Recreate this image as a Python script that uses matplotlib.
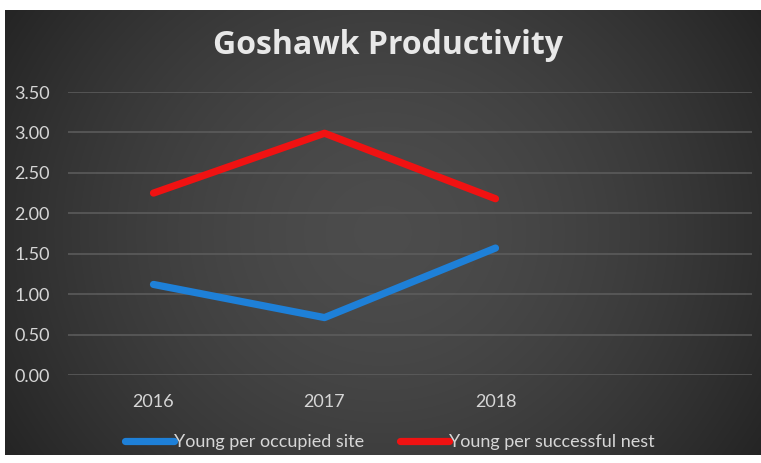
import numpy as np
import matplotlib.pyplot as plt

# data
years = ['2016', '2017', '2018']
per_site = [1.12, 0.71, 1.57]
per_nest = [2.25, 2.99, 2.18]
yticks = [0.0, 0.5, 1.0, 1.5, 2.0, 2.5, 3.0, 3.5]

plt.rcParams['font.family'] = ['Lato', 'DejaVu Sans']

W, H = 761, 463
fig = plt.figure(figsize=(W / 100, H / 100), dpi=100, facecolor='white')

# dark background panel with soft gradient
bg = fig.add_axes([5 / W, 8 / H, 756 / W, 445 / H])
gx = np.linspace(-1, 1, 400)
gy = np.linspace(-1, 1, 240)
X, Y = np.meshgrid(gx, gy)
r = np.sqrt((X * 0.95) ** 2 + (Y * 0.6) ** 2)
shade = 0.30 - 0.13 * np.clip(r, 0, 1.3) ** 1.6
bg.imshow(np.dstack([shade] * 3), aspect='auto', extent=[0, 1, 0, 1], interpolation='bilinear')
bg.set_axis_off()

ax = fig.add_axes([68 / W, (H - 375) / H, 684 / W, 283 / H])
ax.patch.set_alpha(0)
x = np.arange(len(years))
l1, = ax.plot(x, per_site, color='#1E80D8', lw=5.2, solid_capstyle='round', solid_joinstyle='round',
              label='Young per occupied site')
l2, = ax.plot(x, per_nest, color='#F01212', lw=5.2, solid_capstyle='round', solid_joinstyle='round',
              label='Young per successful nest')

ax.set_xlim(-0.5, 3.5)
ax.set_ylim(0, 3.5)
ax.set_yticks(yticks)
ax.set_yticklabels(['%.2f' % v for v in yticks])
ax.set_xticks(x)
ax.set_xticklabels(years)
ax.grid(axis='y', color='#5e5e5e', lw=1.1)
ax.set_axisbelow(True)
for s in ax.spines.values():
    s.set_visible(False)
ax.tick_params(length=0, colors='#d6d6d6', labelsize=13)
ax.tick_params(axis='y', pad=13)
ax.tick_params(axis='x', pad=14)

fig.text(388 / W, 1 - 46 / H, 'Goshawk Productivity', ha='center', va='center',
         fontsize=23, fontweight='bold', color='#e8e8e8', family=['Open Sans', 'DejaVu Sans'])

leg = fig.legend(handles=[l1, l2], loc='center', bbox_to_anchor=(390 / W, 1 - 442 / H), ncol=2,
                 frameon=False, fontsize=13, handlelength=2.7, handletextpad=0.0, columnspacing=2.0)
for t in leg.get_texts():
    t.set_color('#d6d6d6')

fig.savefig('out.png', dpi=100, facecolor='white')
